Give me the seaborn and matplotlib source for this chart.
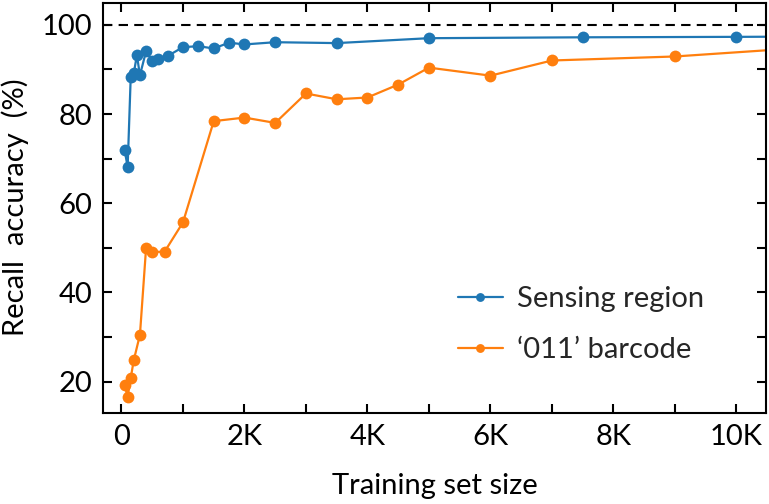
import numpy as np
import pandas as pd
import seaborn as sns
import matplotlib
matplotlib.use("Agg")
import matplotlib.pyplot as plt
from matplotlib.ticker import MultipleLocator

# Data
sense_x = [50, 100, 150, 200, 250, 300, 400, 500, 600, 750, 1000, 1250, 1500,
           1750, 2000, 2500, 3500, 5000, 7500, 10000, 12000]
sense_y = [72.0, 68.1, 88.3, 89.1, 93.2, 88.7, 94.1, 91.9, 92.4, 93.0, 95.0,
           95.2, 94.7, 96.0, 95.6, 96.1, 95.9, 97.0, 97.2, 97.3, 97.4]

barcode_x = [50, 100, 150, 200, 300, 400, 500, 700, 1000, 1500, 2000, 2500,
             3000, 3500, 4000, 4500, 5000, 6000, 7000, 9000, 12000]
barcode_y = [19.2, 16.6, 20.8, 24.8, 30.5, 50.0, 49.1, 49.1, 55.7, 78.4, 79.2,
             78.0, 84.6, 83.3, 83.7, 86.6, 90.4, 88.6, 92.0, 92.9, 95.7]

series_names = ["Sensing region", "\u2018011\u2019 barcode"]
x_ticks = [0, 2000, 4000, 6000, 8000, 10000]
x_ticklabels = ["0", "2K", "4K", "6K", "8K", "10K"]
y_ticks = [20, 40, 60, 80, 100]

df = pd.concat([
    pd.DataFrame({"size": sense_x, "acc": sense_y, "series": series_names[0]}),
    pd.DataFrame({"size": barcode_x, "acc": barcode_y, "series": series_names[1]}),
])

sns.set_theme(style="ticks")
plt.rcParams["font.family"] = ["Lato", "DejaVu Sans"]

FS = 21

fig = plt.figure(figsize=(7.69, 5.04), dpi=100)
ax = fig.add_axes([0.134, 0.181, 0.862, 0.814])

palette = {series_names[0]: "#1f77b4", series_names[1]: "#ff7f0e"}
sns.lineplot(data=df, x="size", y="acc", hue="series", palette=palette,
             marker="o", markersize=8.5, markeredgewidth=0, linewidth=1.6,
             ax=ax, sort=True, estimator=None)

ax.axhline(100, color="black", linestyle=(0, (4.5, 3)), linewidth=1.5, zorder=1)

ax.set_xlim(-300, 10480)
ax.set_ylim(13, 105)

ax.set_xticks(x_ticks)
ax.set_xticklabels(x_ticklabels)
ax.xaxis.set_minor_locator(MultipleLocator(1000))
ax.set_yticks(y_ticks)
ax.yaxis.set_minor_locator(MultipleLocator(10))

ax.tick_params(which="both", direction="in", top=True, right=True,
               length=6.5, width=1.5, color="black")
ax.tick_params(which="major", labelsize=FS, pad=8, labelcolor="black")

for s in ax.spines.values():
    s.set_linewidth(1.5)
    s.set_color("black")

ax.set_xlabel("Training set size", fontsize=FS, labelpad=17, color="black")
ax.set_ylabel("Recall  accuracy  (%)", fontsize=FS, labelpad=9, color="black")

leg = ax.legend(frameon=False, fontsize=FS, loc="center left",
                bbox_to_anchor=(0.535, 0.215), borderaxespad=0, borderpad=0,
                handlelength=1.55, handletextpad=0.5, labelspacing=0.85,
                markerscale=0.75)

fig.savefig("out.png", dpi=100)
